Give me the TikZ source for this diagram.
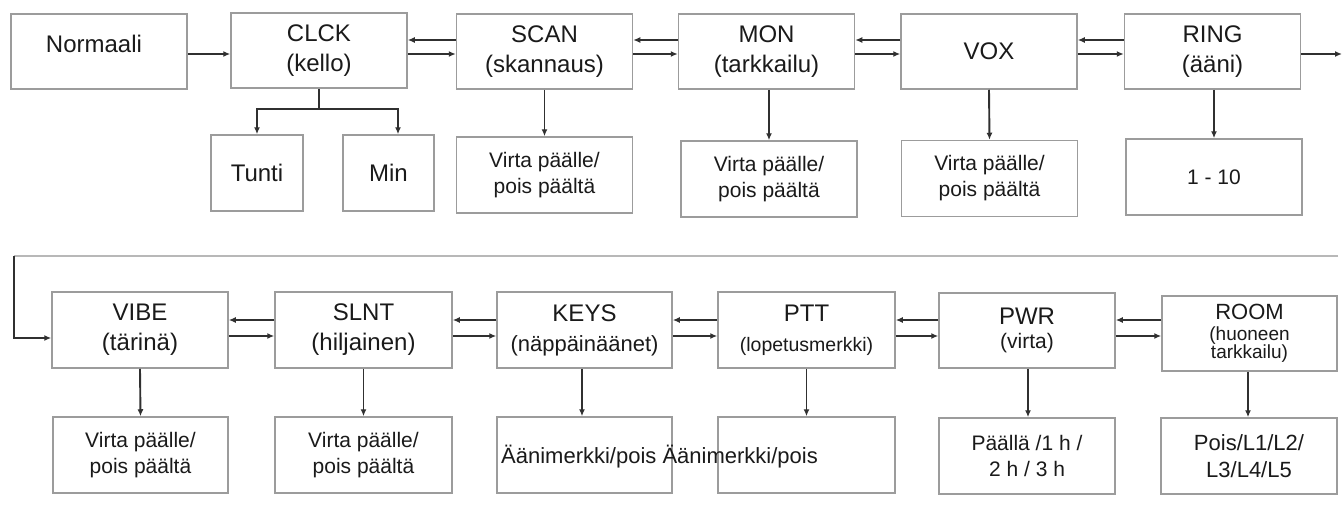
\documentclass[tikz,border=0pt]{standalone}
\usepackage{fontspec}
\setmainfont{Liberation Sans}
\usetikzlibrary{arrows.meta}
\definecolor{boxgray}{HTML}{9C9C9C}
\definecolor{arrgray}{HTML}{303030}
\definecolor{txt}{HTML}{1A1A1A}
\definecolor{linegray}{HTML}{B8B8B8}
\begin{document}
\begin{tikzpicture}[x=1pt,y=-1pt,
  box/.style={draw=boxgray, line width=1.5pt, minimum width=176pt, minimum height=75pt,
    inner sep=0pt, align=center, text=txt, font=\fontsize{24}{30}\selectfont},
  smallbox/.style={box, minimum width=92pt, minimum height=76pt},
  subbox/.style={box, minimum height=76pt, font=\fontsize{21}{26}\selectfont},
  plain/.style={inner sep=0pt, text=txt, align=center},
  arr/.style={draw=arrgray, line width=1.9pt, -{Latex[length=7pt,width=6pt]}},
  ln/.style={draw=arrgray, line width=1.9pt},
  grayln/.style={draw=linegray, line width=2pt}]
\useasboundingbox (0,0) rectangle (1343,504);
\fill[white] (0,0) rectangle (1343,504);

% ---- top row
\node[box] (norm) at (99,51.5) {};
\node[plain, font=\fontsize{24}{30}\selectfont] (normt) at (94,44) {Normaali};
\node[box] (clck) at (319,50.5) {CLCK\\(kello)};
\node[box] (scan) at (544.5,51.5) {SCAN\\(skannaus)};
\node[box] (mon) at (766.5,51.5) {MON\\(tarkkailu)};
\node[box] (vox) at (989,51.5) {VOX};
\node[box] (ring) at (1212.5,51.5) {RING\\(ääni)};

\node[smallbox] (tunti) at (257,173) {Tunti};
\node[smallbox, minimum width=91pt] (min) at (388.5,173) {Min};
\node[subbox] (scansub) at (544.5,175) {Virta päälle/\\pois päältä};
\node[subbox] (monsub) at (769,179) {Virta päälle/\\pois päältä};
\node[subbox] (voxsub) at (989.5,178.5) {Virta päälle/\\pois päältä};
\node[subbox] (ringsub) at (1214,177) {1 - 10};

% ---- bottom row
\node[box, minimum height=76pt] (vibe) at (140,330) {VIBE\\(tärinä)};
\node[box, minimum height=76pt, minimum width=177pt] (slnt) at (363.5,330) {SLNT\\(hiljainen)};
\node[box, minimum height=76pt, minimum width=175pt] (keys) at (584.5,330) {KEYS\\{\fontsize{22}{28}\selectfont (näppäinäänet)}};
\node[box, minimum height=76pt, minimum width=177pt] (ptt) at (806.5,330) {PTT\\{\fontsize{19.5}{24}\selectfont (lopetusmerkki)}};
\node[box, minimum height=75pt] (pwr) at (1027,330.5) {PWR\\[-6pt]{\fontsize{21}{24}\selectfont (virta)}};
\node[box, minimum width=175pt, font=\fontsize{19}{19}\selectfont] (room) at (1249.5,333.5) {{\fontsize{22}{24}\selectfont ROOM}\\[2pt](huoneen\\[-1pt]tarkkailu)};

\node[subbox, minimum width=175pt] (vibesub) at (140.5,455) {Virta päälle/\\pois päältä};
\node[subbox, minimum width=177pt] (slntsub) at (363.5,455) {Virta päälle/\\pois päältä};
\node[subbox, minimum width=175pt] (keyssub) at (584.5,455) {};
\node[subbox, minimum width=177pt] (pttsub) at (806.5,455) {};
\node[plain, anchor=west, font=\fontsize{22}{26}\selectfont] (aanit) at (501,457) {Äänimerkki/pois Äänimerkki/pois};
\node[subbox] (pwrsub) at (1027,456) {Päällä /1 h /\\2 h / 3 h};
\node[subbox, font=\fontsize{22}{27}\selectfont] (roomsub) at (1249,456) {Pois/L1/L2/\\L3/L4/L5};

% ---- helper coordinates
\coordinate (tu) at (0,40);
\coordinate (tl) at (0,54);
\coordinate (bu) at (0,320);
\coordinate (bl) at (0,336);
\coordinate (out) at (1342,54);
\coordinate (cj) at (319,109);
\coordinate (tj) at (257,109);
\coordinate (mj) at (398,109);
\coordinate (lr) at (1338,256);
\coordinate (ll) at (14,256);
\coordinate (lb) at (14,338);

% ---- connectors top
\draw[arr] (norm.east |- tl) -- (clck.west |- tl);
\foreach \a/\b in {clck/scan, scan/mon, mon/vox, vox/ring} {
  \draw[arr] (\b.west |- tu) -- (\a.east |- tu);
  \draw[arr] (\a.east |- tl) -- (\b.west |- tl);
}
\draw[arr] (ring.east |- tl) -- (out);
\draw[ln] (clck.south) -- (cj);
\draw[arr] (cj) -- (tj) -- (tunti.north);
\draw[arr] (cj) -- (mj) -- (mj |- min.north);
\draw[arr] (scan.south) -- (scansub.north);
\draw[arr] (mon.south -| monsub.north) -- (monsub.north);
\draw[arr] (vox.south) -- (voxsub.north);
\draw[arr] (ring.south -| ringsub.north) -- (ringsub.north);

% ---- loop to bottom row
\draw[grayln] (lr) -- (ll);
\draw[arr] (ll) -- (lb) -- (vibe.west |- lb);

% ---- connectors bottom
\foreach \a/\b in {vibe/slnt, slnt/keys, keys/ptt, ptt/pwr, pwr/room} {
  \draw[arr] (\b.west |- bu) -- (\a.east |- bu);
  \draw[arr] (\a.east |- bl) -- (\b.west |- bl);
}
\draw[arr] (vibe.south) -- (vibesub.north);
\draw[arr] (slnt.south) -- (slntsub.north);
\draw[arr] (keys.south -| 582,0) -- (keyssub.north -| 582,0);
\draw[arr] (ptt.south) -- (pttsub.north);
\draw[arr] (pwr.south -| 1028,0) -- (pwrsub.north -| 1028,0);
\draw[arr] (room.south -| 1248,0) -- (roomsub.north -| 1248,0);
\end{tikzpicture}
\end{document}
